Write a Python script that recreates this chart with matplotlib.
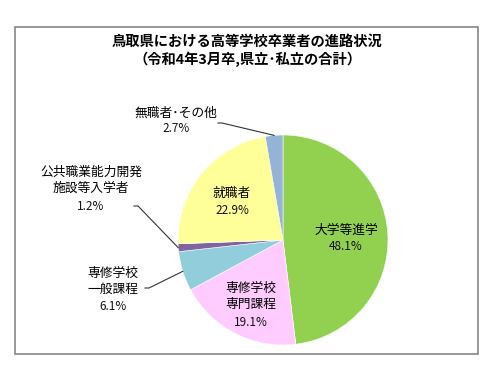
import numpy as np
import matplotlib
matplotlib.use('Agg')
import matplotlib.pyplot as plt
from matplotlib.patches import Rectangle

plt.rcParams['font.family'] = ['Noto Sans CJK JP', 'DejaVu Sans']

# data
labels = ['大学等進学', '専修学校\n専門課程', '専修学校\n一般課程',
          '公共職業能力開発\n施設等入学者', '就職者', '無職者･その他']
values = [48.1, 19.1, 6.1, 1.2, 22.9, 2.7]
colors = ['#92D050', '#FFCCFF', '#92CDDC', '#8064A2', '#FFFF99', '#95B3D7']

title = '鳥取県における高等学校卒業者の進路状況\n（令和4年3月卒,県立･私立の合計）'

W, H = 494, 371
cx, cy, r = 283, H - 240, 105

fig = plt.figure(figsize=(W / 100, H / 100), dpi=100)
ax = fig.add_axes([0, 0, 1, 1])

wedges, _ = ax.pie(values, colors=colors, startangle=90, counterclock=False,
                   center=(cx, cy), radius=r,
                   wedgeprops=dict(edgecolor='white', linewidth=0.4))
ax.set_xlim(0, W)
ax.set_ylim(0, H)
ax.set_aspect('equal')
ax.axis('off')

# chart frame
ax.add_patch(Rectangle((15, H - 354), 463, 327, fill=False,
                       edgecolor='#868686', lw=1.2))

ax.text(247, H - 51, title, ha='center', va='center', fontsize=10.3,
        fontweight='bold', linespacing=1.25)

# label positions in pixels (x, y of name block centre, y of percent)
# leader: None or (x, y) start of line in pixels
layout = [
    ((346, 230), 247, None),
    ((251, 296), 323, None),
    ((113, 281), 307, (145, 288)),
    ((91, 180), 207, (134, 206)),
    ((232, 193), 211, None),
    ((176, 113), 128, (218, 123)),
]

for w, lab, v, (pos, py, lead) in zip(wedges, labels, values, layout):
    x, y = pos
    ax.text(x, H - y, lab, ha='center', va='center', fontsize=9.2,
            linespacing=1.3)
    ax.text(x, H - py, f'{v:.1f}%', ha='center', va='center', fontsize=8.5,
            color='#111111')
    if lead is not None:
        mid = np.deg2rad((w.theta1 + w.theta2) / 2)
        ex = w.center[0] + w.r * np.cos(mid)
        ey = w.center[1] + w.r * np.sin(mid)
        lx, ly = lead
        ax.plot([lx, lx + 4, ex], [H - ly, H - ly, ey], color='#333333',
                lw=0.8)

fig.savefig('out.png', dpi=100)
